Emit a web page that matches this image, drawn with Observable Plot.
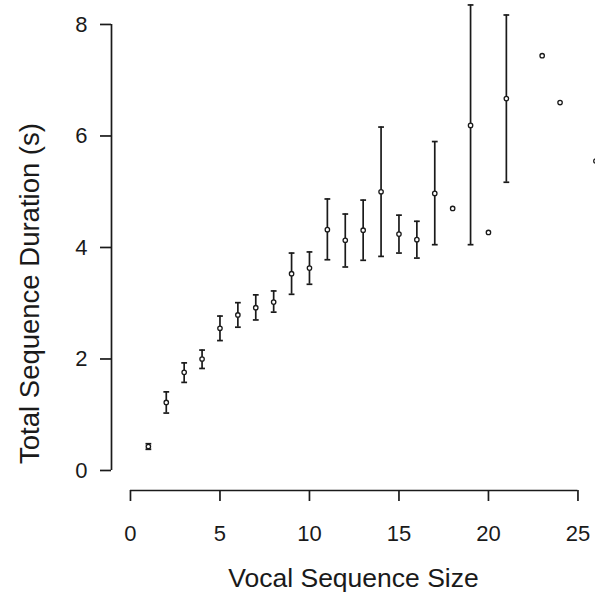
<!DOCTYPE html>
<html>
<head>
<meta charset="utf-8">
<script src="https://cdn.jsdelivr.net/npm/d3@7"></script>
<script src="https://cdn.jsdelivr.net/npm/@observablehq/plot@0.6"></script>
<style>
  html, body { margin: 0; padding: 0; background: #fff; }
  #chart { width: 595px; height: 598px; overflow: hidden; }
</style>
</head>
<body>
<div id="chart"></div>
<script>
// Vocal sequence size (x) and total sequence duration (s): mean with error bars
const sizes = [1, 2, 3, 4, 5, 6, 7, 8, 9, 10, 11, 12, 13, 14, 15, 16, 17, 18, 19, 20, 21, 23, 24, 26];
const means = [0.43, 1.22, 1.76, 2.00, 2.55, 2.79, 2.92, 3.02, 3.53, 3.63, 4.32, 4.13, 4.31, 5.00, 4.24, 4.14, 4.97, 4.70, 6.19, 4.27, 6.67, 7.44, 6.60, 5.55];
const lower = [0.38, 1.03, 1.58, 1.83, 2.33, 2.57, 2.70, 2.84, 3.16, 3.34, 3.78, 3.65, 3.77, 3.84, 3.90, 3.81, 4.05, null, 4.05, null, 5.17, null, null, null];
const upper = [0.48, 1.41, 1.93, 2.16, 2.77, 3.01, 3.15, 3.22, 3.90, 3.92, 4.87, 4.60, 4.85, 6.16, 4.58, 4.47, 5.90, null, 8.35, null, 8.17, null, null, null];

const xTicks = [0, 5, 10, 15, 20, 25];
const yTicks = [0, 2, 4, 6, 8];
const xLabel = "Vocal Sequence Size";
const yLabel = "Total Sequence Duration (s)";

const xDomain = [-1.06, 25.98];
const yDomain = [-0.359, 8.43];

const data = sizes.map((s, i) => ({x: s, mean: means[i], lo: lower[i], hi: upper[i]}));
const bars = data.filter(d => d.lo != null && d.hi != null);
const caps = bars.flatMap(d => [{x: d.x, y: d.lo}, {x: d.x, y: d.hi}]);

const capSymbol = {
  draw(context, size) {
    const w = Math.sqrt(size / Math.PI);
    context.moveTo(-w, 0);
    context.lineTo(w, 0);
  }
};

const font = "'Liberation Sans', Arial, Helvetica, sans-serif";
const ink = "#1a1a1a";

const plot = Plot.plot({
  width: 595,
  height: 598,
  marginLeft: 111,
  marginRight: 0,
  marginTop: 0,
  marginBottom: 108,
  style: {fontFamily: font, background: "#fff", color: ink},
  x: {domain: xDomain},
  y: {domain: yDomain},
  marks: [
    Plot.ruleX([xDomain[0]], {y1: yTicks[0], y2: yTicks[yTicks.length - 1], stroke: ink, strokeWidth: 1.7}),
    Plot.ruleY([yDomain[0]], {x1: xTicks[0], x2: xTicks[xTicks.length - 1], stroke: ink, strokeWidth: 1.7}),
    Plot.axisY({ticks: yTicks, tickSize: 11, tickPadding: 13, fontSize: 22, label: null, stroke: ink, strokeWidth: 1.7, tickFormat: d => String(d)}),
    Plot.axisX({ticks: xTicks, tickSize: 11, tickPadding: 24, fontSize: 22, label: null, stroke: ink, strokeWidth: 1.7, tickFormat: d => String(d)}),
    Plot.ruleX(bars, {x: "x", y1: "lo", y2: "hi", stroke: ink, strokeWidth: 1.7}),
    Plot.dot(caps, {x: "x", y: "y", symbol: capSymbol, r: 2.9, stroke: ink, strokeWidth: 1.7, fill: "none"}),
    Plot.dot(data, {x: "x", y: "mean", r: 2.2, stroke: ink, strokeWidth: 1.3, fill: "#fff"}),
    Plot.text([yLabel], {frameAnchor: "left", rotate: -90, dx: -81, dy: 48, fontSize: 27.5, textAnchor: "middle", lineAnchor: "middle", fill: ink}),
    Plot.text([xLabel], {frameAnchor: "bottom", dy: 88, fontSize: 26.5, textAnchor: "middle", lineAnchor: "middle", fill: ink})
  ]
});
document.getElementById("chart").appendChild(plot);
</script>
</body>
</html>
